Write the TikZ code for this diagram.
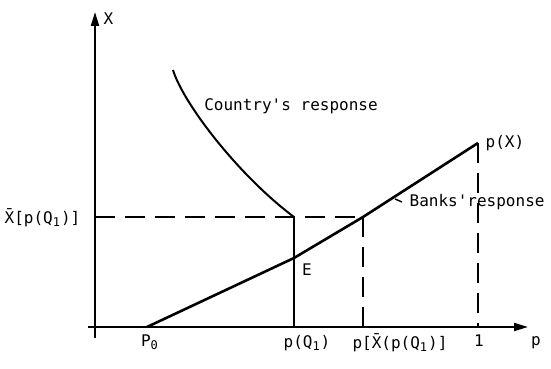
\documentclass[tikz,border=0pt]{standalone}
\usepackage{fontspec}
\setmonofont{DejaVu Sans Mono}
\usetikzlibrary{arrows.meta,positioning}

\begin{document}
\begin{tikzpicture}[x=0.5pt, y=0.5pt, font=\ttfamily\fontsize{8}{9}\selectfont, line width=1pt,
  axis/.style={-{Triangle[length=7pt,width=4pt]}},
  guide/.style={dash pattern=on 10pt off 5pt, line width=0.9pt},
  resp/.style={line width=1.3pt}]
  \useasboundingbox (0,0) rectangle (551,369);
  % axes
  \coordinate (yb) at (95,31);
  \coordinate (yt) at (95,357);
  \coordinate (xl) at (88,42);
  \coordinate (xr) at (528,42);
  \draw[axis] (yb) -- (yt);
  \draw[axis] (xl) -- (xr);
  \node[anchor=west] (xlab) at (96,350) {X};
  \node (plab) at (536,26) {p};
  % points on the p axis
  \coordinate (p0) at (147,42);
  \coordinate (pq) at (294,42);
  \coordinate (pxq) at (363,42);
  \coordinate (pone) at (478,42);
  \coordinate (xq) at (95,152);
  % banks' response
  \coordinate (E) at (294,111);
  \coordinate (B) at (363,152);
  \coordinate (PX) at (478,226);
  \draw[resp] (p0) -- (E) -- (B) -- (PX);
  % country's response
  \coordinate (C0) at (173,299);
  \coordinate (C) at (294,152);
  \draw (C0) .. controls (183,266) and (238,194) .. (C);
  \draw (C) -- (pq);
  % guide lines
  \draw[guide] (xq) -- (B);
  \draw[guide] (B) -- (pxq);
  \draw[guide] (PX) -- (pone);
  % labels
  \node[anchor=east] (xqlab) at (88,151) {\=X[p(Q\textsubscript{1})]};
  \node (p0lab) at (150,27) {P\textsubscript{0}};
  \node (pqlab) at (307,26) {p(Q\textsubscript{1})};
  \node (pxqlab) at (400,26) {p[\=X(p(Q\textsubscript{1})]};
  \node (onelab) at (479,28) {1};
  \node[anchor=west] (pxlab) at (478,226) {p(X)};
  \node (Elab) at (307,99) {E};
  \node (clab) at (291,263) {Country's response};
  \node[anchor=west] (blab) at (402,167) {Banks'response};
  \coordinate (bl) at (395,170);
  \draw[line width=0.7pt] (bl) -- (blab.west);
\end{tikzpicture}
\end{document}
